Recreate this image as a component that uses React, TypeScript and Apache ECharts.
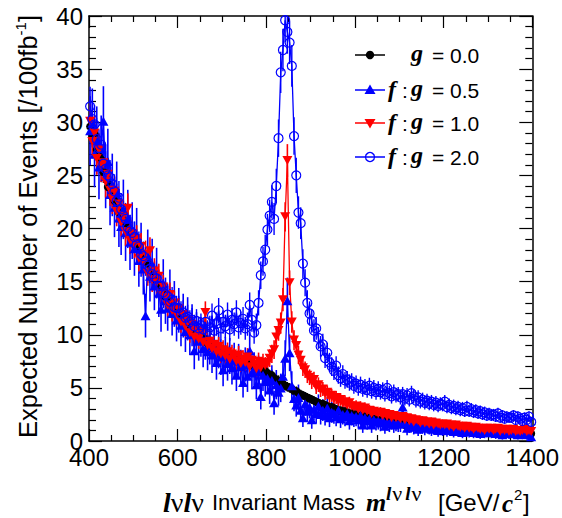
import React, { useEffect, useRef } from "react";
import * as echarts from "echarts";

// ---- binning (5 GeV bins from 400 to 1400) ----
const MASS_MIN = 400;
const BIN_WIDTH = 5;

// ---- axis settings ----
const X_MIN = 400;
const X_MAX = 1400;
const X_STEP = 200;
const Y_MIN = 0;
const Y_MAX = 40;
const Y_STEP = 5;

// ---- series values (expected events per bin) ----
const g00 = [
  29.6, 28.7, 28.9, 27.4, 26.8, 26.5, 25.3, 25.2, 23.9, 24.1,
  23.0, 22.6, 22.3, 21.5, 21.4, 20.7, 20.5, 19.8, 19.7, 19.2,
  19.0, 18.2, 18.4, 17.5, 17.3, 16.9, 16.7, 15.9, 16.0, 15.4,
  15.1, 14.7, 14.2, 14.1, 13.6, 13.4, 12.9, 13.0, 12.5, 12.2,
  12.0, 11.8, 11.4, 11.4, 11.0, 10.9, 10.5, 10.5, 10.1, 9.9,
  9.9, 9.6, 9.6, 9.2, 9.3, 9.0, 8.8, 8.9, 8.6, 8.5,
  8.5, 8.3, 8.4, 8.1, 8.0, 7.9, 7.9, 7.6, 7.7, 7.5,
  7.5, 7.3, 7.3, 7.1, 7.0, 6.9, 6.9, 6.7, 6.6, 6.6,
  6.4, 6.2, 6.2, 5.9, 5.8, 5.7, 5.5, 5.4, 5.2, 5.1,
  5.0, 4.9, 4.7, 4.7, 4.5, 4.4, 4.3, 4.2, 4.1, 4.0,
  3.9, 3.8, 3.7, 3.6, 3.5, 3.5, 3.4, 3.3, 3.2, 3.2,
  3.1, 3.0, 2.9, 2.9, 2.8, 2.8, 2.7, 2.6, 2.6, 2.5,
  2.5, 2.4, 2.4, 2.3, 2.3, 2.2, 2.2, 2.1, 2.1, 2.0,
  2.0, 1.9, 1.9, 1.9, 1.8, 1.8, 1.7, 1.7, 1.7, 1.6,
  1.6, 1.6, 1.5, 1.5, 1.5, 1.5, 1.4, 1.4, 1.4, 1.4,
  1.3, 1.3, 1.3, 1.3, 1.2, 1.2, 1.2, 1.2, 1.2, 1.1,
  1.1, 1.1, 1.1, 1.1, 1.0, 1.0, 1.0, 1.0, 1.0, 1.0,
  0.9, 0.9, 0.9, 0.9, 0.9, 0.9, 0.9, 0.8, 0.8, 0.8,
  0.8, 0.8, 0.8, 0.8, 0.8, 0.8, 0.8, 0.7, 0.7, 0.7,
  0.7, 0.7, 0.7, 0.7, 0.7, 0.7, 0.7, 0.7, 0.7, 0.7,
];

const fg05 = [
  29.2, 29.9, 27.0, 28.3, 25.8, 27.5, 30.1, 24.9, 26.3, 23.2,
  24.1, 22.0, 23.4, 21.0, 20.2, 21.8, 19.6, 20.9, 18.7, 19.8,
  18.1, 19.3, 17.0, 18.0, 16.2, 11.8, 17.4, 15.5, 16.6, 14.6,
  15.8, 13.9, 12.4, 14.8, 13.2, 12.5, 13.9, 12.0, 12.9, 11.4,
  12.3, 10.9, 11.8, 10.3, 11.5, 10.0, 10.9, 8.5, 10.2, 9.4,
  9.8, 8.7, 9.5, 8.4, 9.0, 8.1, 8.8, 7.4, 8.6, 7.9,
  6.7, 8.1, 7.3, 8.0, 6.9, 7.6, 6.2, 7.5, 7.0, 5.5,
  7.2, 6.1, 8.5, 6.4, 6.8, 5.3, 6.5, 4.2, 6.2, 5.6,
  5.9, 4.8, 5.7, 3.6, 5.3, 4.6, 5.0, 6.1, 7.8, 13.2,
  8.3, 5.2, 4.0, 3.4, 4.1, 2.9, 2.2, 3.5, 2.8, 3.2,
  2.0, 3.0, 2.6, 3.3, 2.5, 2.9, 2.4, 3.1, 2.2, 2.7,
  2.6, 2.3, 2.9, 2.1, 2.5, 2.3, 2.6, 1.9, 2.4, 2.2,
  2.3, 2.0, 2.4, 1.5, 2.2, 1.9, 2.1, 1.5, 2.0, 1.8,
  1.9, 1.7, 2.0, 1.4, 1.8, 1.6, 1.9, 1.5, 1.7, 1.6,
  1.6, 3.2, 1.7, 1.2, 1.5, 1.6, 1.3, 1.5, 1.1, 1.4,
  1.4, 1.2, 1.5, 1.3, 1.1, 1.3, 1.4, 1.0, 1.2, 1.1,
  1.2, 1.0, 1.3, 1.1, 0.9, 1.2, 1.0, 1.1, 0.8, 1.0,
  1.0, 0.9, 1.1, 0.8, 1.0, 0.9, 0.7, 1.0, 0.8, 0.9,
  0.9, 0.8, 1.0, 0.7, 0.9, 0.8, 0.6, 0.9, 0.8, 0.7,
  0.8, 0.7, 0.9, 0.6, 0.8, 0.7, 0.8, 0.6, 0.7, 0.4,
];

const fg10 = [
  30.1, 28.2, 29.0, 26.6, 27.4, 25.9, 26.2, 24.4, 25.1, 23.6,
  22.8, 23.5, 21.6, 22.3, 20.6, 21.2, 19.7, 21.9, 18.9, 19.5,
  18.5, 19.0, 17.2, 18.3, 16.8, 17.6, 15.8, 17.9, 15.2, 16.0,
  14.9, 15.5, 13.9, 14.5, 13.5, 12.8, 13.8, 12.3, 13.0, 11.9,
  12.4, 11.2, 11.9, 10.8, 11.3, 10.2, 11.0, 9.8, 10.4, 9.6,
  10.2, 9.3, 12.1, 9.0, 9.4, 8.7, 9.1, 8.4, 8.9, 8.2,
  8.6, 8.0, 8.4, 7.7, 8.2, 7.9, 7.5, 8.1, 7.3, 7.7,
  7.4, 7.9, 7.0, 7.6, 7.2, 6.8, 7.5, 6.9, 7.4, 7.1,
  7.3, 7.8, 8.2, 8.6, 9.8, 10.4, 11.1, 13.3, 21.1, 26.4,
  14.9, 11.2, 9.5, 9.0, 8.1, 7.6, 6.9, 6.7, 6.2, 6.0,
  5.6, 5.8, 5.1, 5.3, 4.8, 4.9, 4.5, 4.6, 4.2, 4.3,
  4.0, 4.1, 3.8, 3.9, 3.6, 3.7, 3.4, 3.6, 3.3, 3.2,
  3.3, 3.0, 3.2, 2.9, 3.1, 2.8, 2.9, 2.6, 2.8, 2.7,
  2.6, 2.7, 2.4, 2.6, 2.3, 2.5, 2.2, 2.4, 2.2, 2.3,
  2.1, 2.3, 2.0, 2.2, 1.9, 2.1, 1.8, 2.0, 1.9, 1.7,
  1.9, 1.7, 1.8, 1.6, 1.8, 1.5, 1.7, 1.6, 1.5, 1.6,
  1.5, 1.6, 1.4, 1.5, 1.3, 1.5, 1.4, 1.3, 1.4, 1.2,
  1.4, 1.2, 1.3, 1.1, 1.3, 1.2, 1.1, 1.2, 1.0, 1.2,
  1.1, 1.2, 1.0, 1.1, 1.2, 0.9, 1.1, 1.0, 1.1, 0.9,
  1.0, 1.1, 0.9, 1.0, 0.9, 1.0, 1.1, 0.9, 1.0, 0.9,
];

const fg20 = [
  31.5, 30.3, 29.8, 28.4, 27.6, 27.9, 26.1, 25.6, 25.0, 24.8,
  24.2, 23.5, 22.6, 22.9, 21.8, 21.2, 20.9, 20.1, 19.8, 19.6,
  19.2, 18.5, 18.3, 17.6, 17.4, 16.9, 16.5, 16.2, 15.7, 15.4,
  15.3, 14.6, 14.6, 14.0, 13.8, 13.6, 13.1, 13.3, 12.6, 12.5,
  12.5, 12.0, 12.1, 11.6, 11.7, 11.2, 11.4, 10.8, 11.3, 10.6,
  10.9, 10.5, 11.2, 10.3, 10.7, 11.8, 10.4, 11.0, 12.3, 10.6,
  11.2, 10.8, 11.9, 10.5, 11.4, 11.0, 12.1, 10.7, 11.1, 11.5,
  10.6, 11.0, 12.8, 11.4, 10.2, 10.9, 13.0, 15.6, 16.9, 18.0,
  19.9, 21.2, 22.5, 20.9, 24.0, 28.5, 34.7, 36.8, 39.6, 38.5,
  37.5, 35.3, 28.7, 25.0, 21.5, 20.5, 16.7, 14.9, 13.0, 12.0,
  11.3, 10.4, 10.6, 9.7, 8.9, 9.1, 7.8, 8.3, 7.4, 7.0,
  6.6, 7.1, 6.2, 5.9, 6.3, 5.7, 5.8, 5.5, 5.6, 5.2,
  5.4, 5.0, 5.3, 4.9, 5.1, 4.8, 5.2, 4.7, 5.0, 4.6,
  4.9, 4.6, 4.8, 4.4, 5.0, 4.5, 4.2, 4.6, 4.3, 4.4,
  4.1, 4.4, 4.0, 4.3, 3.9, 4.5, 4.2, 3.8, 4.1, 3.7,
  3.9, 3.6, 3.8, 3.5, 3.7, 3.4, 3.6, 3.3, 3.5, 3.4,
  3.7, 3.2, 3.4, 3.1, 3.3, 3.0, 3.2, 2.9, 3.1, 2.8,
  3.2, 2.8, 3.0, 2.7, 2.9, 2.6, 2.8, 2.5, 2.7, 2.4,
  2.6, 2.4, 2.5, 2.3, 2.6, 2.2, 2.4, 2.1, 2.3, 2.2,
  2.2, 2.4, 2.0, 2.3, 2.1, 1.9, 2.2, 2.0, 2.3, 1.8,
];

// relative (Poisson-like) error scale for each sample
const errScale00 = 0.2;
const errScale05 = 0.6;
const errScale10 = 0.3;
const errScale20 = 0.33;

// legend texts
const legendValues = ["= 0.0", "= 0.5", "= 1.0", "= 2.0"];

const SANS = "'Liberation Sans', Arial, Helvetica, sans-serif";
const SERIF = "'Liberation Serif', 'Times New Roman', serif";
const BLUE = "#0000ff";
const RED = "#ff0000";
const BLACK = "#000000";

const binCenter = (i: number) => MASS_MIN + BIN_WIDTH * (i + 0.5);
const toPoints = (vals: number[]) => vals.map((v, i) => [binCenter(i), v]);
const toErrPoints = (vals: number[], k: number) =>
  vals.map((v, i) => [binCenter(i), v, k * Math.sqrt(v)]);

function errorSeries(vals: number[], k: number, color: string, width: number) {
  return {
    type: "custom",
    data: toErrPoints(vals, k),
    silent: true,
    clip: true,
    encode: { x: 0, y: 1 },
    renderItem: (params: any, api: any) => {
      const x = api.value(0);
      const y = api.value(1);
      const e = api.value(2);
      const lo = api.coord([x, Math.max(Y_MIN, y - e)]);
      const hi = api.coord([x, Math.min(Y_MAX, y + e)]);
      return {
        type: "line",
        shape: { x1: lo[0], y1: lo[1], x2: hi[0], y2: hi[1] },
        style: { stroke: color, lineWidth: width },
      };
    },
  };
}

function lineSeries(vals: number[], color: string, extra: any) {
  return {
    type: "line",
    data: toPoints(vals),
    showAllSymbol: true,
    silent: true,
    emphasis: { disabled: true },
    lineStyle: { color, width: 1.3 },
    itemStyle: { color },
    ...extra,
  };
}

const plainNumber = (v: number) => String(v);

function xAxisDef(position: "bottom" | "top", labels: boolean) {
  return {
    type: "value",
    min: X_MIN,
    max: X_MAX,
    interval: X_STEP,
    position,
    axisLine: { show: true, onZero: false, lineStyle: { color: BLACK, width: 1.5 } },
    axisTick: { show: true, inside: true, length: 12, lineStyle: { color: BLACK, width: 1.2 } },
    minorTick: { show: true, splitNumber: 4, length: 6, lineStyle: { color: BLACK, width: 1.2 } },
    axisLabel: {
      show: labels,
      fontSize: 24,
      fontFamily: SANS,
      color: BLACK,
      margin: 4,
      showMinLabel: true,
      showMaxLabel: true,
      formatter: plainNumber,
    },
    splitLine: { show: false },
    minorSplitLine: { show: false },
  };
}

function yAxisDef(position: "left" | "right", labels: boolean) {
  return {
    type: "value",
    min: Y_MIN,
    max: Y_MAX,
    interval: Y_STEP,
    position,
    axisLine: { show: true, onZero: false, lineStyle: { color: BLACK, width: 1.5 } },
    axisTick: { show: true, inside: true, length: 13, lineStyle: { color: BLACK, width: 1.2 } },
    minorTick: { show: true, splitNumber: 5, length: 7, lineStyle: { color: BLACK, width: 1.2 } },
    axisLabel: {
      show: labels,
      fontSize: 24,
      fontFamily: SANS,
      color: BLACK,
      margin: 6,
      showMinLabel: true,
      showMaxLabel: true,
      formatter: plainNumber,
    },
    splitLine: { show: false },
    minorSplitLine: { show: false },
  };
}

function txt(x: number, y: number, text: string, font: any, extra: any = {}) {
  return {
    type: "text",
    x,
    y,
    silent: true,
    style: {
      text,
      fill: BLACK,
      align: "left",
      textAlign: "left",
      verticalAlign: "middle",
      textVerticalAlign: "middle",
      ...font,
      ...extra,
    },
  };
}

function buildGraphic() {
  const rowsY = [55, 90, 123, 157];
  const colors = [BLACK, BLUE, RED, BLUE];
  const els: any[] = [];
  rowsY.forEach((y, i) => {
    els.push({
      type: "line",
      silent: true,
      shape: { x1: 355, y1: y, x2: 385, y2: y },
      style: { stroke: colors[i], lineWidth: 1.5 },
    });
    if (i === 0) {
      els.push({ type: "circle", silent: true, shape: { cx: 370, cy: y, r: 4.2 }, style: { fill: BLACK } });
    } else if (i === 1) {
      els.push({
        type: "polygon",
        silent: true,
        shape: { points: [[370, y - 5.5], [364.5, y + 4], [375.5, y + 4]] },
        style: { fill: BLUE },
      });
    } else if (i === 2) {
      els.push({
        type: "polygon",
        silent: true,
        shape: { points: [[364.5, y - 4], [375.5, y - 4], [370, y + 5.5]] },
        style: { fill: RED },
      });
    } else {
      els.push({
        type: "circle",
        silent: true,
        shape: { cx: 370, cy: y, r: 4.5 },
        style: { fill: "none", stroke: BLUE, lineWidth: 1.3 },
      });
    }
    const italic = { fontFamily: SERIF, fontStyle: "italic", fontWeight: "bold", fontSize: 24 };
    if (i > 0) {
      els.push(txt(388, y - 1, "f", italic));
      els.push(txt(402, y, ":", { fontFamily: SANS, fontSize: 21 }));
    }
    els.push(txt(411, y - 2, "g", italic));
    els.push(txt(432, y, legendValues[i], { fontFamily: SANS, fontSize: 21 }));
  });

  // x-axis title
  const serifBI = { fontFamily: SERIF, fontStyle: "italic", fontWeight: "bold" };
  els.push({
    type: "text",
    x: 163,
    y: 502,
    silent: true,
    style: {
      text: "{l|l}{n|ν}{l|l}{n|ν}",
      align: "left",
      verticalAlign: "middle",
      rich: {
        l: { ...serifBI, fontSize: 28, fill: BLACK },
        n: { fontFamily: SERIF, fontSize: 28, fill: BLACK },
      },
    },
  });
  els.push(txt(212, 502, "Invariant Mass", { fontFamily: SANS, fontSize: 22 }));
  els.push(txt(366, 502, "m", { ...serifBI, fontSize: 26 }));
  els.push({
    type: "text",
    x: 386,
    y: 493,
    silent: true,
    style: {
      text: "{l|l}{n|ν}{l|l}{n|ν}",
      align: "left",
      verticalAlign: "middle",
      rich: {
        l: { ...serifBI, fontSize: 19, fill: BLACK },
        n: { fontFamily: SERIF, fontSize: 22, fill: BLACK, padding: [0, 3, 0, 1] },
      },
    },
  });
  els.push(txt(438, 502, "[GeV/", { fontFamily: SANS, fontSize: 24 }));
  els.push(txt(502, 503, "c", { ...serifBI, fontSize: 25 }));
  els.push(txt(514, 494, "2", { fontFamily: SANS, fontSize: 15 }));
  els.push(txt(523, 502, "]", { fontFamily: SANS, fontSize: 24 }));

  // y-axis title (rotated)
  els.push({
    type: "text",
    x: 28,
    y: 15,
    rotation: Math.PI / 2,
    silent: true,
    style: {
      text: "{a|Expected Number of Events [/100fb}{s|-1}{a|]}",
      align: "right",
      verticalAlign: "middle",
      rich: {
        a: { fontFamily: SANS, fontSize: 25.5, fill: BLACK, lineHeight: 30 },
        s: { fontFamily: SANS, fontSize: 15, fill: BLACK, verticalAlign: "top" },
      },
    },
  });
  return els;
}

export default function App() {
  const ref = useRef<HTMLDivElement>(null);

  useEffect(() => {
    if (!ref.current) return;
    const chart = echarts.init(ref.current, null, { renderer: "svg" });
    const option: any = {
      animation: false,
      backgroundColor: "#ffffff",
      grid: { left: 89, right: 29, top: 16, bottom: 77, containLabel: false },
      xAxis: [xAxisDef("bottom", true), xAxisDef("top", false)],
      yAxis: [yAxisDef("left", true), yAxisDef("right", false)],
      series: [
        errorSeries(g00, errScale00, BLACK, 1.5),
        lineSeries(g00, BLACK, { symbol: "circle", symbolSize: 8 }),
        errorSeries(fg05, errScale05, BLUE, 1.6),
        lineSeries(fg05, BLUE, { symbol: "triangle", symbolSize: [10, 9] }),
        errorSeries(fg10, errScale10, RED, 1.6),
        lineSeries(fg10, RED, { symbol: "triangle", symbolSize: [10, 9], symbolRotate: 180 }),
        errorSeries(fg20, errScale20, BLUE, 1.4),
        lineSeries(fg20, BLUE, {
          symbol: "circle",
          symbolSize: 9,
          itemStyle: { color: "rgba(0,0,0,0)", borderColor: BLUE, borderWidth: 1.2 },
        }),
      ],
      graphic: buildGraphic(),
    };
    chart.setOption(option);
    return () => chart.dispose();
  }, []);

  return (
    <div
      ref={ref}
      style={{ position: "fixed", left: 0, top: 0, width: 562, height: 518, background: "#fff" }}
    />
  );
}
